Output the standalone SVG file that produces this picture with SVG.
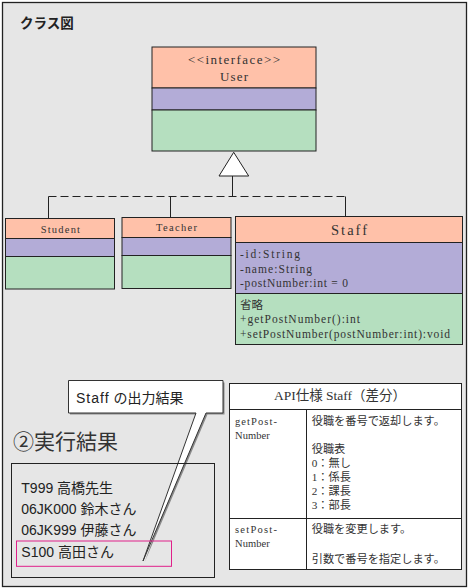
<svg xmlns="http://www.w3.org/2000/svg" width="468" height="588" viewBox="0 0 468 588">
<style>
.hd{fill:#ffc1a9;stroke:#222;stroke-width:1}
.at{fill:#b3acd7;stroke:#222;stroke-width:1}
.op{fill:#b5dfbf;stroke:#222;stroke-width:1}
.ln{stroke:#222;stroke-width:1;fill:none}
.sans{font-family:"Liberation Sans","Noto Sans CJK JP",sans-serif;fill:#222}
.ser{font-family:"Liberation Serif","Noto Sans CJK JP",serif;fill:#333}
.cjk{font-family:"Noto Sans CJK JP",sans-serif;fill:#333}
.mid{text-anchor:middle}
</style>
<rect x="2.5" y="2.5" width="464" height="584" fill="#e6e6e6" stroke="#222" stroke-width="1.3"/>
<g id="title"><text x="20" y="28" class="sans" font-size="13.5" font-weight="bold">クラス図</text></g>

<g id="user">
<rect x="152" y="47" width="164" height="41" class="hd"/>
<rect x="152" y="88" width="164" height="22" class="at"/>
<rect x="152" y="110" width="164" height="41" class="op"/>
<text x="188" y="64" class="ser" font-size="13" textLength="92" lengthAdjust="spacing">&lt;&lt;interface&gt;&gt;</text>
<text x="220" y="81" class="ser" font-size="13" textLength="28" lengthAdjust="spacing">User</text>
</g>

<g id="student">
<rect x="5.5" y="218.5" width="109" height="20" class="hd"/>
<rect x="5.5" y="238.5" width="109" height="18" class="at"/>
<rect x="5.5" y="256.5" width="109" height="32.5" class="op"/>
<text x="40.7" y="232.5" class="ser" font-size="10.5" textLength="39.3" lengthAdjust="spacing">Student</text>
</g>

<g id="teacher">
<rect x="122" y="217.5" width="109" height="20" class="hd"/>
<rect x="122" y="237.5" width="109" height="18" class="at"/>
<rect x="122" y="255.5" width="109" height="33" class="op"/>
<text x="156" y="231" class="ser" font-size="10.5" textLength="41" lengthAdjust="spacing">Teacher</text>
</g>

<g id="staff">
<rect x="235.5" y="216.5" width="227" height="26" class="hd"/>
<rect x="235.5" y="242.5" width="227" height="51" class="at"/>
<rect x="235.5" y="293.5" width="227" height="51" class="op"/>
<text x="331" y="234.5" class="ser" font-size="14.5" textLength="36" lengthAdjust="spacing">Staff</text>
<text x="240" y="257.5" class="ser" font-size="11.5" textLength="60" lengthAdjust="spacing">-id:String</text>
<text x="240" y="272.5" class="ser" font-size="11.5" textLength="72" lengthAdjust="spacing">-name:String</text>
<text x="240" y="286.5" class="ser" font-size="11.5" textLength="108" lengthAdjust="spacing">-postNumber:int = 0</text>
<text x="240" y="309" class="cjk" font-size="11.5">省略</text>
<text x="240" y="323" class="ser" font-size="11.5" textLength="120" lengthAdjust="spacing">+getPostNumber():int</text>
<text x="240" y="337.5" class="ser" font-size="11.5" textLength="210" lengthAdjust="spacing">+setPostNumber(postNumber:int):void</text>
</g>

<g id="connectors">
<polygon points="233.7,152.3 219,176 248.7,176" fill="#fff" stroke="#222" stroke-width="1"/>
<line x1="232.5" y1="176" x2="232.5" y2="196.5" class="ln"/>
<line x1="48.5" y1="196.5" x2="345.5" y2="196.5" class="ln" stroke-dasharray="8 4"/>
<line x1="48.5" y1="196.5" x2="48.5" y2="218.5" class="ln"/>
<line x1="170.5" y1="196.5" x2="170.5" y2="217.5" class="ln"/>
<line x1="345.5" y1="196.5" x2="345.5" y2="216.5" class="ln"/>
</g>

<g id="callout">
<path d="M70,382.5 H224.5 V414.5 H207.5 L144.5,562.5 L197.5,414.5 H70 Z" fill="#8a8a8a" stroke="none"/>
<path d="M68.5,380.5 H223 V413 H206 L143,561 L196,413 H68.5 Z" fill="#fff" stroke="#333" stroke-width="1"/>
<text x="76" y="403" class="sans" font-size="14"><tspan letter-spacing="1">Staff</tspan><tspan dx="4">の出力結果</tspan></text>
</g>

<g id="heading"><text x="13" y="449" class="cjk" font-size="21" fill="#222">②実行結果</text></g>

<g id="result">
<rect x="11.5" y="463.5" width="203" height="114" fill="none" stroke="#222" stroke-width="1"/>
<text x="21.3" y="493" class="sans" font-size="14">T999 高橋先生</text>
<text x="21.3" y="514" class="sans" font-size="14">06JK000 鈴木さん</text>
<text x="21.3" y="535" class="sans" font-size="14">06JK999 伊藤さん</text>
<text x="21.3" y="557" class="sans" font-size="14">S100 高田さん</text>
<rect x="16.5" y="541" width="155" height="25.3" fill="none" stroke="#e0208a" stroke-width="1"/>
</g>

<g id="api-table">
<rect x="229.5" y="383.5" width="232" height="186" fill="#fff" stroke="#222" stroke-width="1"/>
<line x1="229.5" y1="409.5" x2="461.5" y2="409.5" class="ln"/>
<line x1="229.5" y1="518.5" x2="461.5" y2="518.5" class="ln"/>
<line x1="306.5" y1="409.5" x2="306.5" y2="569.5" class="ln"/>
<text x="340" y="400" class="ser mid" font-size="13.5">API仕様 Staff（差分）</text>
<text x="235" y="425" class="ser" font-size="10.5" textLength="42" lengthAdjust="spacing">getPost-</text>
<text x="235" y="438.5" class="ser" font-size="10.5" textLength="34.7" lengthAdjust="spacing">Number</text>
<text x="311.7" y="425" class="cjk" font-size="11.2">役職を番号で返却します。</text>
<text x="311.7" y="453.3" class="cjk" font-size="11.2">役職表</text>
<text x="311.7" y="467.3" class="ser" font-size="11.2">0：無し</text>
<text x="311.7" y="481.3" class="ser" font-size="11.2">1：係長</text>
<text x="311.7" y="495.3" class="ser" font-size="11.2">2：課長</text>
<text x="311.7" y="509.3" class="ser" font-size="11.2">3：部長</text>
<text x="235" y="533.3" class="ser" font-size="10.5" textLength="42" lengthAdjust="spacing">setPost-</text>
<text x="235" y="546.7" class="ser" font-size="10.5" textLength="34.7" lengthAdjust="spacing">Number</text>
<text x="311.7" y="533.3" class="cjk" font-size="11.2">役職を変更します。</text>
<text x="311.7" y="563.3" class="cjk" font-size="11.2">引数で番号を指定します。</text>
</g>
</svg>
